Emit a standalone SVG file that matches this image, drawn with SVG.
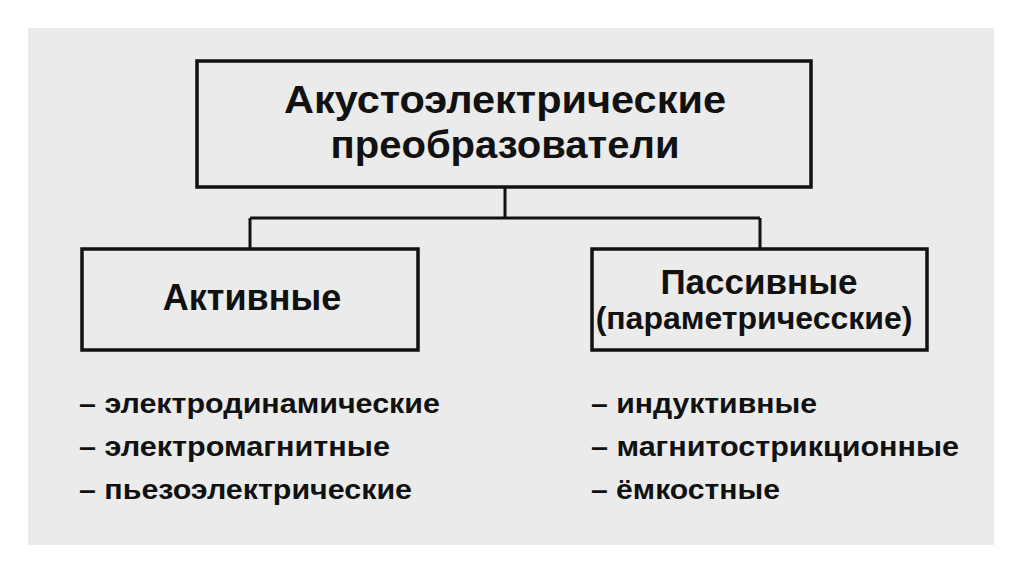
<svg xmlns="http://www.w3.org/2000/svg" width="1024" height="574" viewBox="0 0 1024 574">
<style>
.box{fill:none;stroke:#111;stroke-width:3.5}
.con{fill:none;stroke:#111;stroke-width:3}
.t{font-family:"Liberation Sans",Arial,sans-serif;font-weight:bold;fill:#111;text-anchor:middle}
.l{font-family:"Liberation Sans",Arial,sans-serif;font-weight:bold;fill:#111;font-size:27px}
</style>
<rect x="0" y="0" width="1024" height="574" fill="#ffffff"/>
<rect x="28" y="28" width="966" height="517" fill="#ebebeb"/>
<g id="connectors">
<path class="con" d="M505 187V218M250 218H760M250 218V249M760 218V249"/>
</g>
<g id="root">
<rect class="box" x="197" y="61" width="614" height="126"/>
<text class="t" x="505" y="113" font-size="38" textLength="442" lengthAdjust="spacingAndGlyphs">Акустоэлектрические</text>
<text class="t" x="505" y="158" font-size="38" textLength="349" lengthAdjust="spacingAndGlyphs">преобразователи</text>
</g>
<g id="active">
<rect class="box" x="82" y="249" width="336" height="101"/>
<text class="t" x="252" y="310" font-size="36">Активные</text>
</g>
<g id="passive">
<rect class="box" x="592" y="249" width="335" height="101"/>
<text class="t" x="759" y="294" font-size="35">Пассивные</text>
<text class="t" x="754" y="329" font-size="32">(параметричесские)</text>
</g>
<g id="active-list">
<text class="l" x="79" y="413" textLength="361" lengthAdjust="spacingAndGlyphs">– электродинамические</text>
<text class="l" x="79" y="456" textLength="311" lengthAdjust="spacingAndGlyphs">– электромагнитные</text>
<text class="l" x="79" y="499" textLength="333" lengthAdjust="spacingAndGlyphs">– пьезоэлектрические</text>
</g>
<g id="passive-list">
<text class="l" x="591" y="413" textLength="226" lengthAdjust="spacingAndGlyphs">– индуктивные</text>
<text class="l" x="591" y="456" textLength="368" lengthAdjust="spacingAndGlyphs">– магнитострикционные</text>
<text class="l" x="591" y="499" textLength="189" lengthAdjust="spacingAndGlyphs">– ёмкостные</text>
</g>
</svg>
